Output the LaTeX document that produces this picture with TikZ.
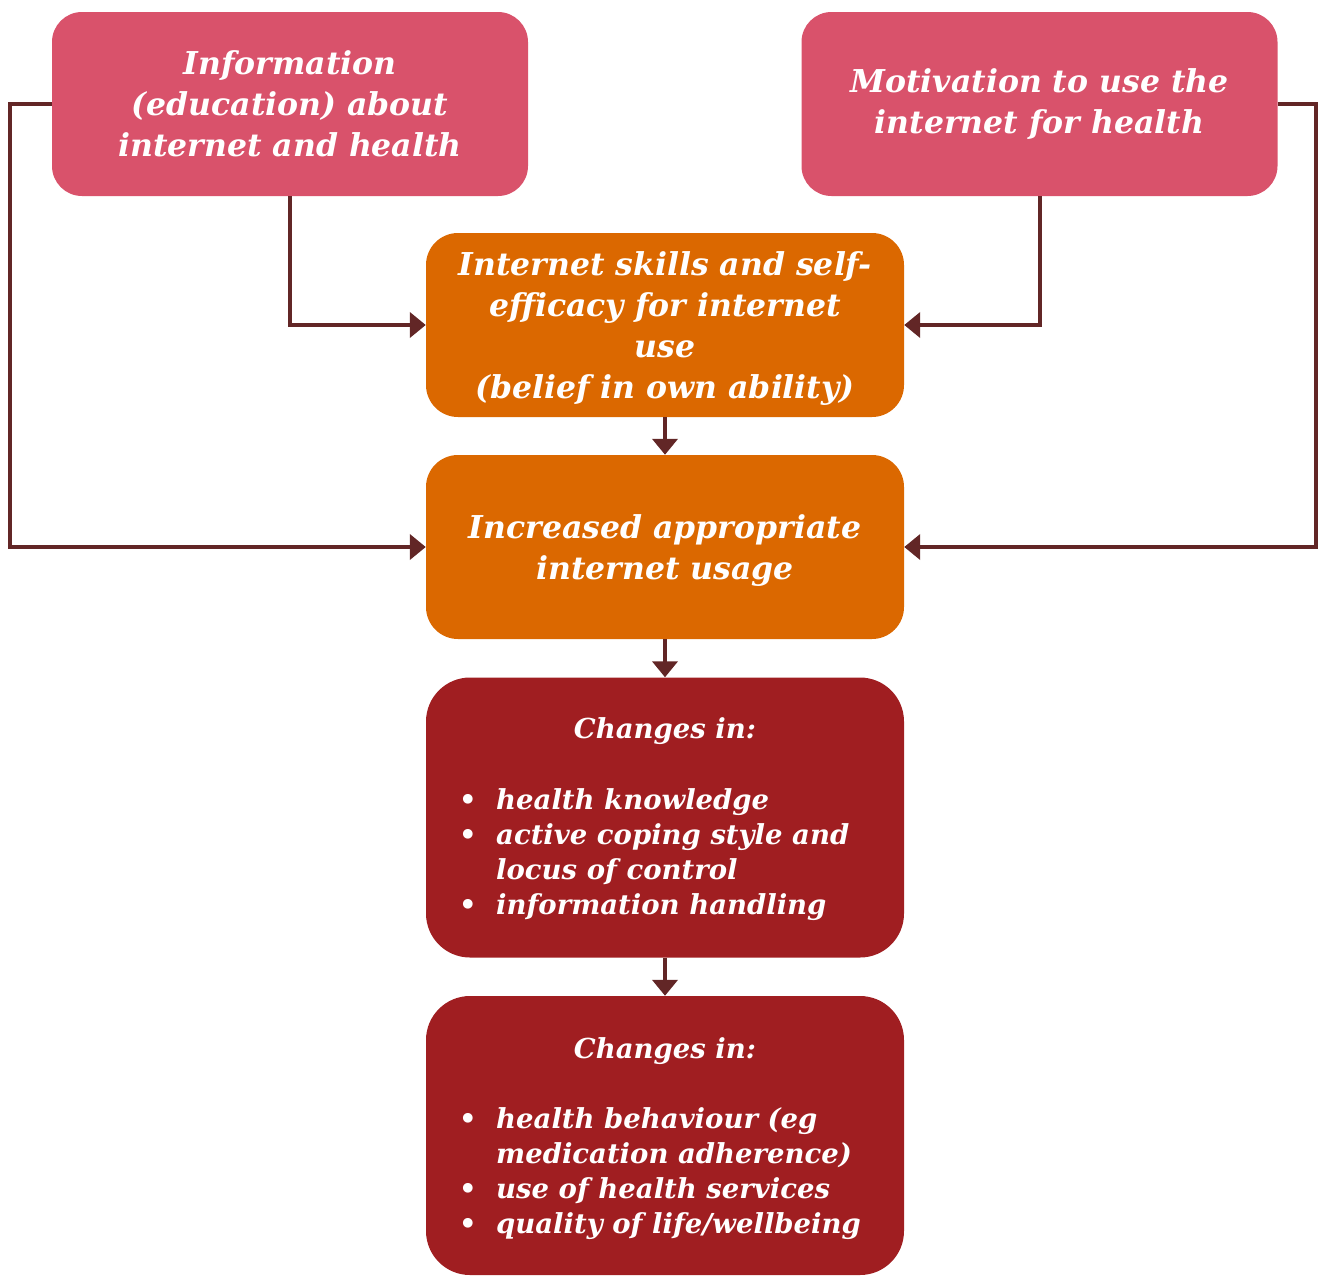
\documentclass[tikz,border=0pt]{standalone}
\usepackage{fontspec}
\setmainfont{DejaVu Serif}
\usetikzlibrary{arrows.meta}
\definecolor{pinkfill}{RGB}{217,82,107}
\definecolor{orangefill}{RGB}{219,104,0}
\definecolor{redfill}{RGB}{160,30,33}
\definecolor{linkcol}{RGB}{98,38,38}
\tikzset{
  boxbase/.style={rectangle, text=white, align=center, inner sep=0pt,
    font=\bfseries\itshape\fontsize{31.5}{41}\selectfont},
  pinkbox/.style={boxbase, fill=pinkfill, rounded corners=30pt, minimum width=476pt, minimum height=184pt},
  orangebox/.style={boxbase, fill=orangefill, rounded corners=32pt, minimum width=478pt, minimum height=184pt, text depth=0pt},
  redbox/.style={boxbase, fill=redfill, rounded corners=44pt, minimum width=478pt, minimum height=280pt},
  smalltext/.style={text=white, inner sep=0pt, align=left,
    font=\bfseries\itshape\fontsize{27.5}{35}\selectfont},
  link/.style={draw=linkcol, line width=4pt, -{Triangle[length=16pt,width=25pt]}},
}
\newcommand{\bul}{\makebox[37pt][l]{\upshape •}}
\begin{document}
\begin{tikzpicture}[x=1pt,y=-1pt]
\useasboundingbox (0,0) rectangle (1320,1275);
\node[pinkbox] (A) at (290,104) {Information\\(education) about\\internet and health};
\node[pinkbox] (B) at (1039.5,104) {Motivation to use the\\internet for health};
\node[orangebox] (C) at (665,325) {Internet skills and self-\\efficacy for internet\\use\\(belief in own ability)};
\node[orangebox] (D) at (665,547) {Increased appropriate\\internet usage};
\node[redbox] (E) at (665,817.5) {};
\node[redbox, minimum height=279pt] (F) at (665,1135.5) {};
\node[smalltext, anchor=center] (Eh) at (665,731) {Changes in:};
\node[smalltext, anchor=west] (El) at (459,855) {\bul health knowledge\\\bul active coping style and\\\hspace*{37pt}locus of control\\\bul information handling};
\node[smalltext, anchor=center] (Fh) at (665,1051) {Changes in:};
\node[smalltext, anchor=west] (Fl) at (459,1174) {\bul health behaviour (eg\\\hspace*{37pt}medication adherence)\\\bul use of health services\\\bul quality of life/wellbeing};
% connectors
\coordinate (aL) at (10,104);
\coordinate (aLd) at (10,547);
\coordinate (bR) at (1316,104);
\coordinate (bRd) at (1316,547);
\draw[link] (A.south) |- (C.west);
\draw[link] (B.south) |- (C.east);
\draw[link] (A.west) -- (aL) -- (aLd) -- (D.west);
\draw[link] (B.east) -- (bR) -- (bRd) -- (D.east);
\draw[link] (C.south) -- (D.north);
\draw[link] (D.south) -- (E.north);
\draw[link] (E.south) -- (F.north);
\end{tikzpicture}
\end{document}
